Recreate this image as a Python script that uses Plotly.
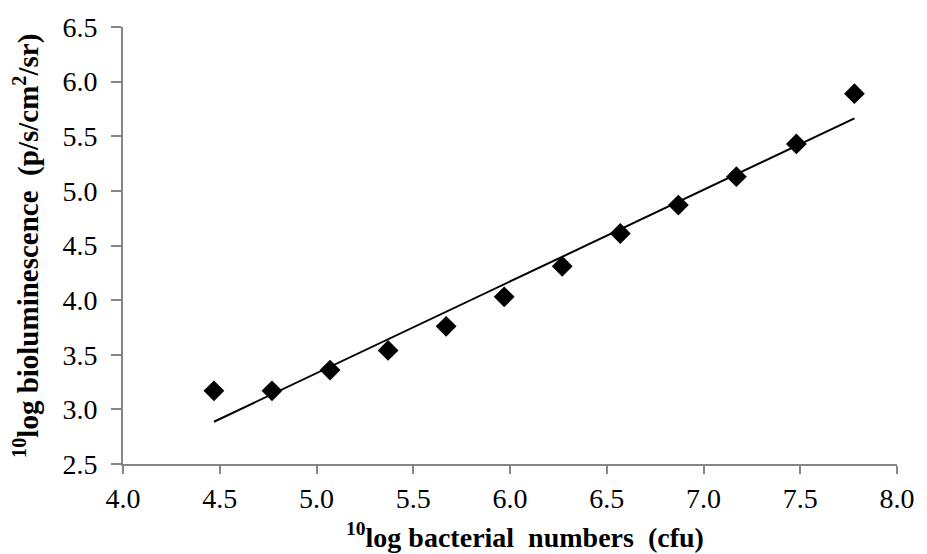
import numpy as np
import plotly.graph_objects as go

# Data
log_cfu = [4.47, 4.77, 5.07, 5.37, 5.67, 5.97, 6.27, 6.57, 6.87, 7.17, 7.48, 7.78]
log_biolum = [3.17, 3.17, 3.36, 3.54, 3.76, 4.03, 4.31, 4.61, 4.87, 5.13, 5.43, 5.89]
x_ticks = [4.0, 4.5, 5.0, 5.5, 6.0, 6.5, 7.0, 7.5, 8.0]
y_ticks = [2.5, 3.0, 3.5, 4.0, 4.5, 5.0, 5.5, 6.0, 6.5]

x_title = "<sup>10</sup>log bacterial  numbers  (cfu)"
y_title = "<sup>10</sup>log bioluminescence  (p/s/cm<sup>2</sup>/sr)"

# linear trendline (least squares) across the data range
slope, intercept = np.polyfit(log_cfu, log_biolum, 1)
trend_x = [min(log_cfu), max(log_cfu)]
trend_y = [slope * v + intercept for v in trend_x]

axis_col = "#868686"
font_family = "Liberation Serif"

fig = go.Figure()
fig.add_trace(go.Scatter(x=trend_x, y=trend_y, mode="lines",
                         line=dict(color="black", width=2), showlegend=False,
                         hoverinfo="skip"))
fig.add_trace(go.Scatter(x=log_cfu, y=log_biolum, mode="markers",
                         marker=dict(symbol="diamond", size=16, color="black",
                                     line=dict(width=0)),
                         showlegend=False))

fig.update_layout(
    width=927, height=554,
    margin=dict(l=123, r=19, t=21, b=90),
    paper_bgcolor="white", plot_bgcolor="white",
    font=dict(family=font_family, size=28, color="black"),
    xaxis=dict(range=[4.0, 8.0], tickvals=x_ticks,
               tickformat=".1f", showgrid=False, zeroline=False,
               showline=True, linecolor=axis_col, linewidth=2,
               ticks="outside", ticklen=8, tickwidth=2, tickcolor=axis_col,
               tickfont=dict(family=font_family, size=28)),
    yaxis=dict(range=[2.5, 6.5], tickvals=y_ticks,
               tickformat=".1f", showgrid=False, zeroline=False,
               showline=True, linecolor=axis_col, linewidth=2,
               ticks="outside", ticklen=10, tickwidth=2, tickcolor=axis_col,
               ticklabelstandoff=8,
               tickfont=dict(family=font_family, size=28)),
    annotations=[
        dict(text="<b>" + x_title + "</b>", xref="paper", yref="paper",
             x=0.520, y=-0.163, xanchor="center", yanchor="middle",
             showarrow=False, font=dict(family=font_family, size=28)),
        dict(text="<b>" + y_title + "</b>", xref="paper", yref="paper",
             x=-0.124, y=0.499, xanchor="center", yanchor="middle", textangle=-90,
             showarrow=False, font=dict(family=font_family, size=29)),
    ],
)

fig.write_html("out.html")
